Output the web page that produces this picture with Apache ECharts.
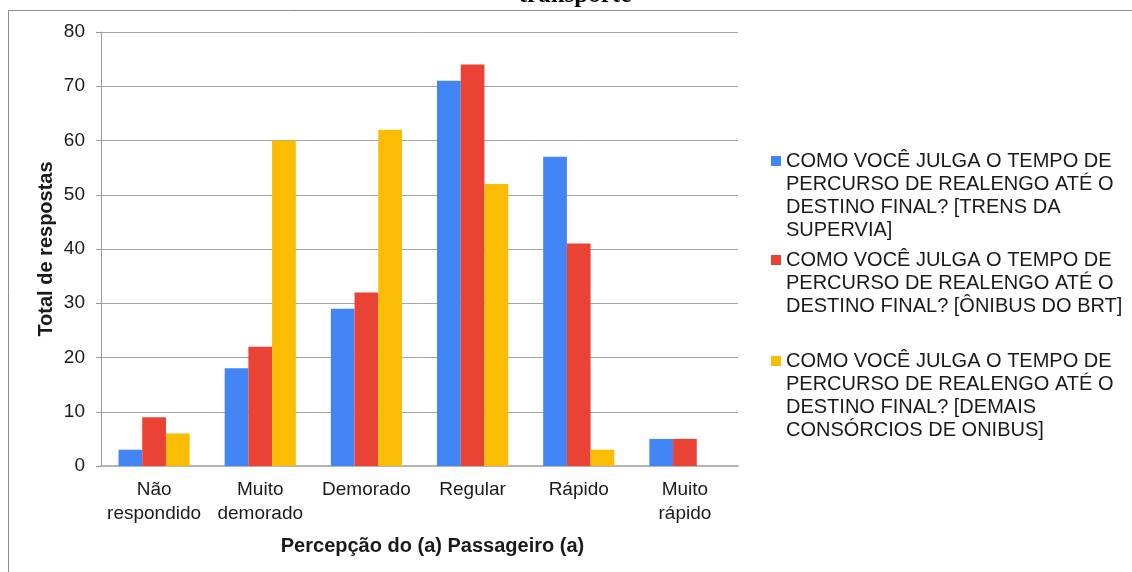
<!DOCTYPE html>
<html>
<head>
<meta charset="utf-8">
<script src="https://cdn.jsdelivr.net/npm/echarts@6/dist/echarts.min.js"></script>
<style>
  html, body { margin: 0; padding: 0; background: #fff; }
  #chart { width: 1132px; height: 572px; }
</style>
</head>
<body>
<div id="chart"></div>
<script>
// Perceived travel time from Realengo, by transport mode
const categories = ['Não\nrespondido', 'Muito\ndemorado', 'Demorado', 'Regular', 'Rápido', 'Muito\nrápido'];
const seriesNames = [
  'COMO VOCÊ JULGA O TEMPO DE\nPERCURSO DE REALENGO ATÉ O\nDESTINO FINAL? [TRENS DA\nSUPERVIA]',
  'COMO VOCÊ JULGA O TEMPO DE\nPERCURSO DE REALENGO ATÉ O\nDESTINO FINAL? [ÔNIBUS DO BRT]',
  'COMO VOCÊ JULGA O TEMPO DE\nPERCURSO DE REALENGO ATÉ O\nDESTINO FINAL? [DEMAIS\nCONSÓRCIOS DE ONIBUS]'
];
const trensSupervia = [3, 18, 29, 71, 57, 5];
const onibusBrt = [9, 22, 32, 74, 41, 5];
const demaisConsorcios = [6, 60, 62, 52, 3, 0];
const yTicks = { min: 0, max: 80, interval: 10 };

const colors = ['#4285f4', '#ea4335', '#fbbc04'];
const values = [trensSupervia, onibusBrt, demaisConsorcios];
const FONT = '"Liberation Sans", Arial, sans-serif';
const LINE_H = 23;
const SWATCH = 10;

// A swatch that sits level with the first text line: a small square drawn
// at the top of a symbol box as tall as the whole wrapped label.
function topSwatch(boxHeight) {
  const y0 = LINE_H / 2 - SWATCH / 2;
  return 'path://M0,' + y0 + 'H' + SWATCH + 'V' + (y0 + SWATCH) + 'H0Z' +
    'M0,0L0,0ZM' + SWATCH + ',' + boxHeight + 'L' + SWATCH + ',' + boxHeight + 'Z';
}

// one legend block per series so every block starts at its own row
const legendTops = [149.5, 248.5, 349.5];
const legends = seriesNames.map((name, i) => {
  const boxHeight = name.split('\n').length * LINE_H;
  return {
    data: [name],
    orient: 'vertical',
    left: 771,
    top: legendTops[i],
    padding: 0,
    itemWidth: SWATCH,
    itemHeight: boxHeight,
    itemGap: 0,
    icon: topSwatch(boxHeight),
    selectedMode: false,
    textStyle: {
      fontFamily: FONT,
      fontSize: 20,
      color: '#1a1a1a',
      lineHeight: LINE_H
    }
  };
});

const chart = echarts.init(document.getElementById('chart'), null, { renderer: 'canvas' });
chart.setOption({
  backgroundColor: '#ffffff',
  animation: false,
  color: colors,
  title: {
    text: 'transporte',
    left: 575,
    textAlign: 'center',
    top: -17,
    padding: 0,
    textStyle: {
      fontFamily: '"Liberation Serif", "Times New Roman", serif',
      fontWeight: 'bold',
      fontSize: 25,
      color: '#000'
    }
  },
  legend: legends,
  grid: { left: 101, right: 394, top: 32, bottom: 106, containLabel: false },
  xAxis: {
    type: 'category',
    data: categories,
    name: 'Percepção do (a) Passageiro (a)',
    nameLocation: 'middle',
    nameGap: 70,
    nameMoveOverlap: false,
    nameTextStyle: {
      fontFamily: FONT, fontWeight: 'bold', fontSize: 20, color: '#1a1a1a',
      padding: [0, 0, 0, 26]
    },
    axisLine: { show: true, lineStyle: { color: '#b5b5b5', width: 2 } },
    axisTick: { show: false },
    axisLabel: {
      interval: 0, margin: 12, fontFamily: FONT, fontSize: 19,
      color: '#1a1a1a', lineHeight: 24
    },
    splitLine: { show: false }
  },
  yAxis: {
    type: 'value',
    min: yTicks.min,
    max: yTicks.max,
    interval: yTicks.interval,
    name: 'Total de respostas',
    nameLocation: 'middle',
    nameGap: 45,
    nameMoveOverlap: false,
    nameTextStyle: { fontFamily: FONT, fontWeight: 'bold', fontSize: 20, color: '#1a1a1a' },
    axisLine: { show: true, lineStyle: { color: '#9a9a9a', width: 1 } },
    axisTick: { show: true, length: 5, lineStyle: { color: '#9a9a9a' } },
    axisLabel: { margin: 16, fontFamily: FONT, fontSize: 19, color: '#1a1a1a' },
    splitLine: { show: true, lineStyle: { color: '#a6a6a6', width: 1 } }
  },
  series: seriesNames.map((name, i) => ({
    name: name,
    type: 'bar',
    data: values[i],
    barGap: '0%',
    barCategoryGap: '33%',
    itemStyle: { color: colors[i] }
  })),
  graphic: [
    {
      type: 'polyline',
      silent: true,
      shape: { points: [[8.5, 572], [8.5, 10.5], [1132, 10.5]] },
      style: { stroke: '#8c8c8c', lineWidth: 1, fill: null }
    }
  ]
});
</script>
</body>
</html>
